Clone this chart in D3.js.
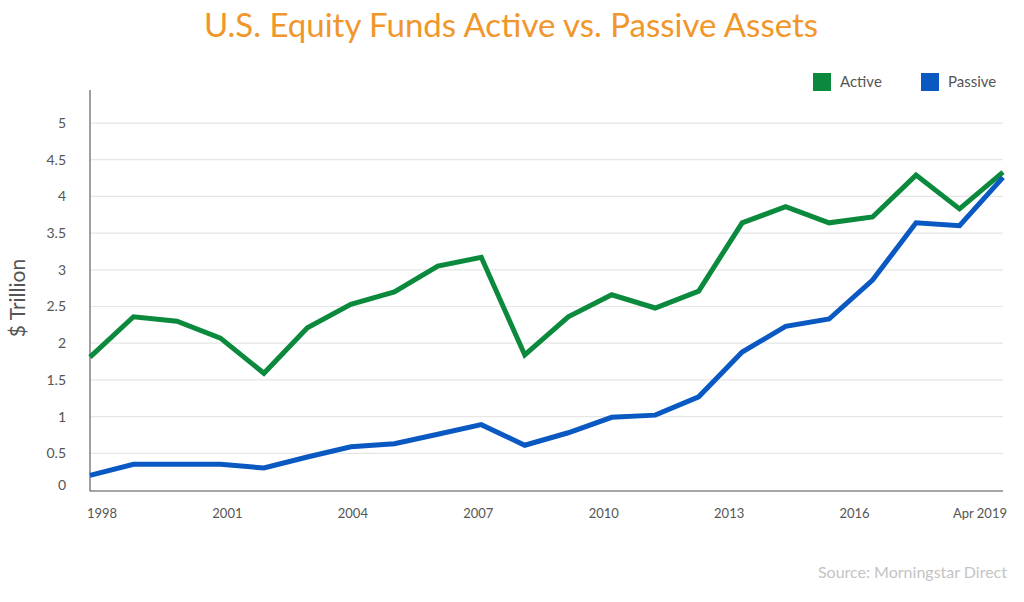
<!DOCTYPE html>
<html><head><meta charset="utf-8">
<script src="https://cdn.jsdelivr.net/npm/d3@7"></script>
<style>body{margin:0;background:#fff}svg{display:block}text{font-family:Lato,"Open Sans",sans-serif}</style>
</head><body><svg id="c" width="1024" height="602"></svg>
<script>
const years = d3.range(1998, 2020);
const active = [1.81,2.36,2.30,2.07,1.59,2.21,2.53,2.70,3.05,3.17,1.84,2.36,2.66,2.48,2.71,3.64,3.86,3.64,3.72,4.29,3.83,4.33];
const passive = [0.20,0.35,0.35,0.35,0.30,0.45,0.59,0.63,0.76,0.89,0.61,0.78,0.99,1.02,1.27,1.88,2.23,2.33,2.86,3.64,3.60,4.26];
const xLabels = ["1998","2001","2004","2007","2010","2013","2016","Apr 2019"];
const yTicks = [0,0.5,1,1.5,2,2.5,3,3.5,4,4.5,5];
const seriesNames = ["Active","Passive"];
const colors = ["#0b8a3e","#0a58c2"];

const svg = d3.select("#c");
const L = 90, R = 1003, T = 90, B = 490;
const x = d3.scaleLinear().domain([1998, 2019]).range([L, R]);
const y = d3.scaleLinear().domain([0, 5.45]).range([B, T]);
const xl = d3.scalePoint().domain(xLabels).range([102, 980]);

// gridlines
svg.append("g").selectAll("line").data(yTicks.filter(d => d > 0)).join("line")
  .attr("x1", L).attr("x2", R).attr("y1", d => y(d)).attr("y2", d => y(d))
  .attr("stroke", "#e6e6e6").attr("stroke-width", 1.2);

// y labels
svg.append("g").selectAll("text").data(yTicks).join("text")
  .attr("x", 66).attr("y", d => d === 0 ? y(d) - 5 : y(d))
  .attr("dy", "0.35em").attr("text-anchor", "end")
  .attr("font-size", 14).attr("fill", "#555").text(d => d);

// x labels
svg.append("g").selectAll("text").data(xLabels).join("text")
  .attr("x", d => xl(d)).attr("y", 513).attr("dy", "0.35em").attr("text-anchor", "middle")
  .attr("font-size", 13).attr("fill", "#555").text(d => d);

// axes lines
svg.append("line").attr("x1", L).attr("x2", L).attr("y1", T).attr("y2", 491.5)
  .attr("stroke", "#888").attr("stroke-width", 1.6);
svg.append("line").attr("x1", L).attr("x2", R).attr("y1", 491).attr("y2", 491)
  .attr("stroke", "#888").attr("stroke-width", 1.6);

// lines
const line = d3.line().x((d, i) => x(years[i])).y(d => y(d));
[active, passive].forEach((s, i) => {
  svg.append("path").datum(s).attr("d", line).attr("fill", "none")
    .attr("stroke", colors[i]).attr("stroke-width", 5).attr("stroke-linejoin", "miter");
});

// legend
const lgX = [813, 921];
seriesNames.forEach((n, i) => {
  svg.append("rect").attr("x", lgX[i]).attr("y", 73).attr("width", 18).attr("height", 18).attr("fill", colors[i]);
  svg.append("text").attr("x", lgX[i] + 27).attr("y", 82).attr("dy", "0.35em")
    .attr("font-size", 15).attr("fill", "#555").text(n);
});

// title
svg.append("text").attr("x", 511).attr("y", 25).attr("dy", "0.35em").attr("text-anchor", "middle")
  .attr("font-size", 33).attr("fill", "#f0962a").text("U.S. Equity Funds Active vs. Passive Assets");

// y axis title
svg.append("text").attr("transform", "translate(18,298) rotate(-90)").attr("dy", "0.35em")
  .attr("text-anchor", "middle").attr("font-size", 21).attr("fill", "#555").text("$ Trillion");

// source
svg.append("text").attr("x", 1007).attr("y", 572).attr("dy", "0.35em").attr("text-anchor", "end")
  .attr("font-size", 16).attr("fill", "#c4c4c4").text("Source: Morningstar Direct");
</script></body></html>
